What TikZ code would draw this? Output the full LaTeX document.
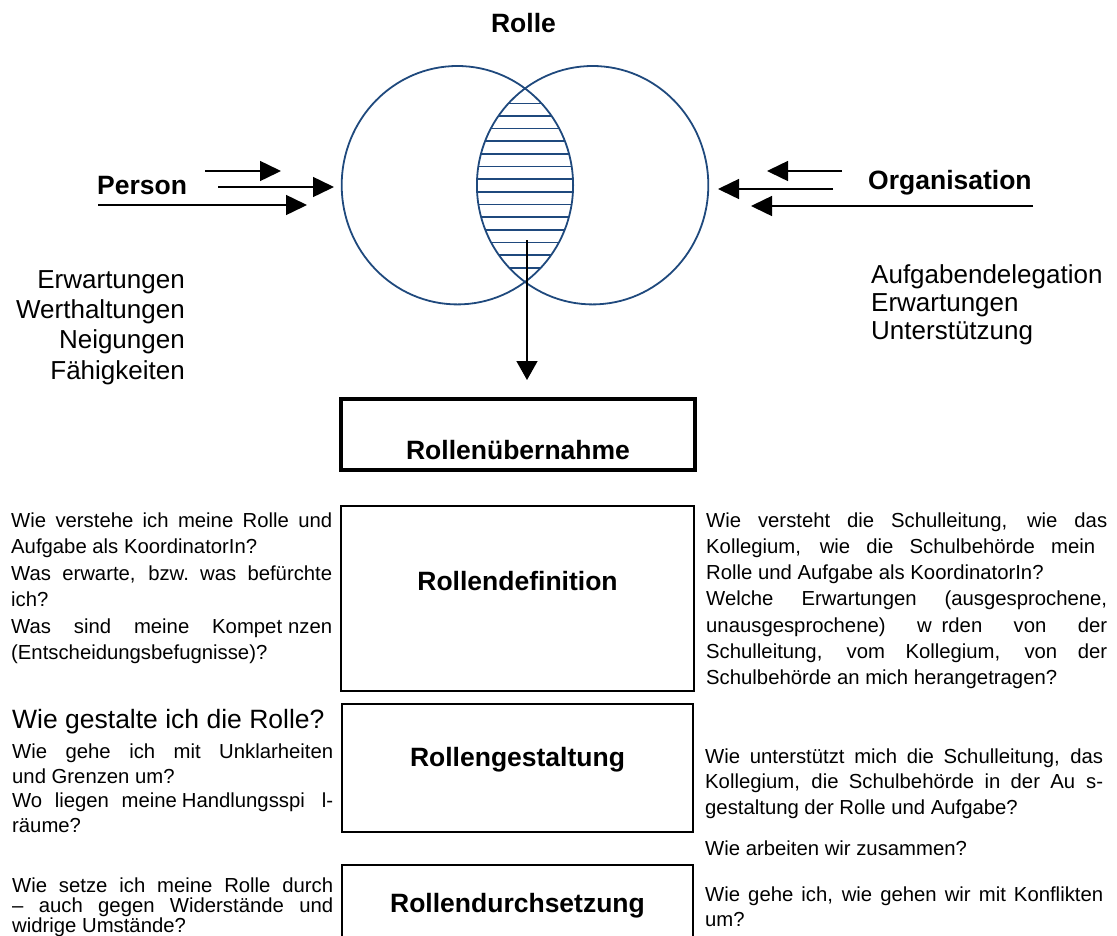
\documentclass[tikz,border=0pt]{standalone}
\usepackage{fontspec}
\setmainfont{Liberation Sans}
\usetikzlibrary{arrows.meta,shapes.geometric}
\definecolor{venn}{HTML}{1F497D}
\newcommand{\natsp}{\spaceskip=0pt\xspaceskip=0pt\relax}
\newcommand{\jl}[2]{\makebox[#1][s]{\natsp #2}}
\tikzset{
  vennring/.style={draw=venn, line width=1.8pt, ellipse, inner sep=0pt, outer sep=0pt,
    minimum width=231.4pt, minimum height=238.4pt},
  hatchline/.style={draw=venn, line width=1.6pt},
  flow/.style={line width=1.5pt, -{Triangle[length=21pt,width=20pt]}},
  boldlab/.style={font=\fontsize{26.5}{30}\selectfont\bfseries, inner sep=0pt, anchor=base},
  biglist/.style={font=\fontsize{26}{30.3}\selectfont, inner sep=0pt},
  smalltext/.style={font=\fontsize{20.3}{26.3}\selectfont, inner sep=0pt, align=left, anchor=base west},
  stagebox/.style={draw, line width=2.5pt, inner sep=0pt, outer sep=0pt},
}
\begin{document}
\begin{tikzpicture}[x=1pt,y=-1pt]
\useasboundingbox (0,0) rectangle (1117,935);
\clip (0,0) rectangle (1117,935);

% Venn
\node[vennring] (pers) at (457.4,185.2) {};
\node[vennring] (orgc) at (592.6,185.2) {};
\begin{scope}
  \clip (457.4,185.2) ellipse [x radius=115.7pt, y radius=119.2pt];
  \clip (592.6,185.2) ellipse [x radius=115.7pt, y radius=119.2pt];
  \foreach \i in {0,...,13}
    \draw[hatchline] (440,{103.3+12.65*\i}) -- (620,{103.3+12.65*\i});
\end{scope}

\node[boldlab] (rolle) at (523.5,32) {Rolle};
\node[boldlab, anchor=base west] (person) at (97,194) {Person};
\node[boldlab, anchor=base west] (orga) at (868,189.3) {Organisation};

% arrows left
\coordinate (pa1) at (205,171); \coordinate (pb1) at (281,171);
\coordinate (pa2) at (218,187); \coordinate (pb2) at (334,187);
\coordinate (pa3) at (98,205);  \coordinate (pb3) at (307,205);
\draw[flow] (pa1) -- (pb1);
\draw[flow] (pa2) -- (pb2);
\draw[flow] (pa3) -- (pb3);
% arrows right
\coordinate (oa1) at (842,171); \coordinate (ob1) at (767,171);
\coordinate (oa2) at (833,189); \coordinate (ob2) at (718,189);
\coordinate (oa3) at (1033,206); \coordinate (ob3) at (751,206);
\draw[flow] (oa1) -- (ob1);
\draw[flow] (oa2) -- (ob2);
\draw[flow] (oa3) -- (ob3);
% down arrow
\coordinate (ds) at (527,240); \coordinate (de) at (527,380);
\draw[line width=1.5pt, -{Triangle[length=19pt,width=21pt]}] (ds) -- (de);

% lists
\node[biglist, text width=180pt, align=right, anchor=base east] (plist) at (185,288.3)
  {\natsp Erwartungen\\Werthaltungen\\Neigungen\\Fähigkeiten};
\node[biglist, font=\fontsize{26}{28}\selectfont, text width=240pt, align=left, anchor=base west] (olist) at (871,283.3)
  {\natsp Aufgabendelegation\\Erwartungen\\Unterstützung};

% stage boxes
\node[stagebox, line width=4pt, minimum width=354pt, minimum height=71pt] (uebernahme) at (518,434.5) {};
\node[boldlab] (uebtext) at (518,459.6) {Rollenübernahme};
\node[stagebox, minimum width=353pt, minimum height=185pt] (definition) at (517.5,598.5) {};
\node[boldlab] (deftext) at (517.5,590) {Rollendefinition};
\node[stagebox, minimum width=351pt, minimum height=128pt] (gestaltung) at (517.5,768) {};
\node[boldlab] (gesttext) at (517.5,766.5) {Rollengestaltung};
\node[stagebox, minimum width=351pt, minimum height=140pt] (durchsetzung) at (517.5,935) {};
\node[boldlab] (durchtext) at (517.5,912) {Rollendurchsetzung};

% Rollendefinition texts
\node[smalltext, font=\fontsize{20.3}{26.4}\selectfont, text width=321pt] (defl) at (11,527.5)
  {\natsp\jl{321pt}{Wie verstehe ich meine Rolle und}\\
   Aufgabe als KoordinatorIn?\\
   \jl{321pt}{Was erwarte, bzw.\ was befürchte}\\
   ich?\\
   \jl{321pt}{Was sind meine Kompet\hspace{6pt}nzen}\\
   (Entscheidungsbefugnisse)?};
\node[smalltext, text width=401pt] (defr) at (706,527)
  {\natsp\jl{401pt}{Wie versteht die Schulleitung, wie das}\\
   \jl{389pt}{Kollegium, wie die Schulbehörde mein}\\
   Rolle und Aufgabe als KoordinatorIn?\\
   \jl{401pt}{Welche Erwartungen (ausgesprochene,}\\
   \jl{401pt}{unausgesprochene) w\hspace{10pt}rden von der}\\
   \jl{401pt}{Schulleitung, vom Kollegium, von der}\\
   Schulbehörde an mich herangetragen?};

% Rollengestaltung texts
\node[biglist, font=\fontsize{26.5}{30}\selectfont, anchor=base west] (gestq) at (12,728.3)
  {\natsp Wie gestalte ich die Rolle?};
\node[smalltext, font=\fontsize{20.3}{24.7}\selectfont, text width=321pt] (gestl) at (12,758.3)
  {\natsp\jl{321pt}{Wie gehe ich mit Unklarheiten}\\
   und Grenzen um?\\
   \jl{321pt}{Wo liegen meine\hspace{5pt}Handlungsspi\hspace{17pt}l-}\\
   räume?};
\node[smalltext, font=\fontsize{20.3}{25.5}\selectfont, text width=398pt] (gestr) at (705,763.3)
  {\natsp\jl{398pt}{Wie unterstützt mich die Schulleitung, das}\\
   \jl{398pt}{Kollegium, die Schulbehörde in der Au\hspace{11pt}s-}\\
   gestaltung der Rolle und Aufgabe?};
\node[smalltext] (gestr2) at (705,855.7) {\natsp Wie arbeiten wir zusammen?};

% Rollendurchsetzung texts
\node[smalltext, font=\fontsize{20.3}{20}\selectfont, text width=321pt] (durchl) at (12,892.5)
  {\natsp\jl{321pt}{Wie setze ich meine Rolle durch}\\
   \jl{321pt}{– auch gegen Widerstände und}\\
   widrige Umstände?};
\node[smalltext, font=\fontsize{20.3}{25}\selectfont, text width=398pt] (durchr) at (705,901.7)
  {\natsp\jl{398pt}{Wie gehe ich, wie gehen wir mit Konflikten}\\
   um?};
\end{tikzpicture}
\end{document}
